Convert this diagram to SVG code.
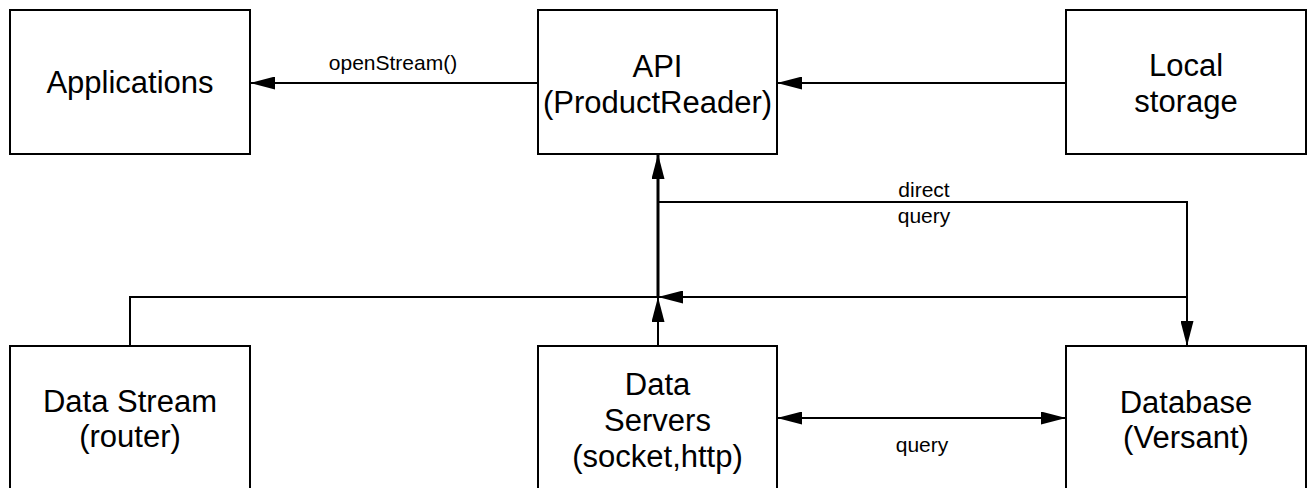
<svg xmlns="http://www.w3.org/2000/svg" width="1314" height="488" viewBox="0 0 1314 488">
  <style>
    .box { fill: #ffffff; stroke: #000000; stroke-width: 2; }
    .label { font-family: "Liberation Sans", Arial, sans-serif; font-size: 31px; fill: #000000; text-anchor: middle; }
    .note { font-family: "Liberation Sans", Arial, sans-serif; font-size: 21px; fill: #000000; text-anchor: middle; }
    .wire { fill: none; stroke: #000000; stroke-width: 2; }
    .trunk { fill: none; stroke: #000000; stroke-width: 3; }
  </style>
  <defs>
    <marker id="arrow" viewBox="0 0 25 13" refX="25" refY="6.5" markerWidth="25" markerHeight="13" markerUnits="userSpaceOnUse" orient="auto-start-reverse">
      <path d="M0,0 L25,6.5 L0,13 Z" fill="#000000"/>
    </marker>
  </defs>
  <rect width="1314" height="488" fill="#ffffff"/>

  <!-- connectors -->
  <g id="connectors">
    <!-- API to Applications -->
    <line class="wire" x1="538" y1="83" x2="250" y2="83" marker-end="url(#arrow)"/>
    <text class="note" x="393" y="70">openStream()</text>
    <!-- Local storage to API -->
    <line class="wire" x1="1066" y1="83" x2="777" y2="83" marker-end="url(#arrow)"/>
    <!-- shared feed up into the API -->
    <line class="trunk" x1="658" y1="297" x2="658" y2="154" marker-end="url(#arrow)"/>
    <!-- Data Servers up to the feed -->
    <line class="wire" x1="658" y1="346" x2="658" y2="297" marker-end="url(#arrow)"/>
    <!-- Data Stream into the feed -->
    <polyline class="wire" points="130,346 130,297 658,297"/>
    <!-- Database into the feed -->
    <polyline class="wire" points="1187,346 1187,297 658,297" marker-end="url(#arrow)"/>
    <!-- direct query from API to Database -->
    <polyline class="wire" points="658,202 1187,202 1187,346" marker-end="url(#arrow)"/>
    <text class="note" x="924" y="197">direct</text>
    <text class="note" x="924" y="223">query</text>
    <!-- query between Data Servers and Database -->
    <line class="wire" x1="777" y1="418" x2="1066" y2="418" marker-start="url(#arrow)" marker-end="url(#arrow)"/>
    <text class="note" x="922" y="452">query</text>
  </g>

  <g id="applications">
    <rect class="box" x="10" y="10" width="240" height="144"/>
    <text class="label" x="130" y="93">Applications</text>
  </g>
  <g id="api">
    <rect class="box" x="538" y="10" width="239" height="144"/>
    <text class="label" x="657.5" y="77">API</text>
    <text class="label" x="657.5" y="113">(ProductReader)</text>
  </g>
  <g id="local-storage">
    <rect class="box" x="1066" y="10" width="240" height="144"/>
    <text class="label" x="1186" y="76">Local</text>
    <text class="label" x="1186" y="112">storage</text>
  </g>
  <g id="data-stream">
    <rect class="box" x="10" y="346" width="240" height="150"/>
    <text class="label" x="130" y="412">Data Stream</text>
    <text class="label" x="130" y="447">(router)</text>
  </g>
  <g id="data-servers">
    <rect class="box" x="538" y="346" width="239" height="150"/>
    <text class="label" x="657.5" y="395">Data</text>
    <text class="label" x="657.5" y="431">Servers</text>
    <text class="label" x="657.5" y="467">(socket,http)</text>
  </g>
  <g id="database">
    <rect class="box" x="1066" y="346" width="240" height="150"/>
    <text class="label" x="1186" y="413">Database</text>
    <text class="label" x="1186" y="448">(Versant)</text>
  </g>
</svg>
